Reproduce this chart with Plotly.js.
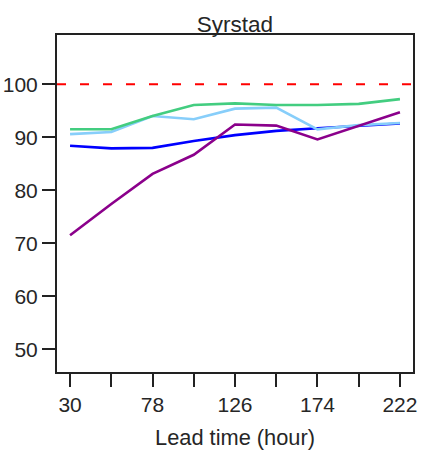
<!DOCTYPE html>
<html>
<head>
<meta charset="utf-8">
<script src="https://cdn.plot.ly/plotly-3.0.1.min.js"></script>
<style>
  html, body { margin: 0; padding: 0; background: #fff; }
  #chart { width: 424px; height: 455px; }
</style>
</head>
<body>
<div id="chart"></div>
<script>
// Lead times (hours) at which the scores were computed
const leadTimes = [30, 54, 78, 102, 126, 150, 174, 198, 222];
const labelledTicks = [30, 78, 126, 174, 222];

// Score per lead time for each series
const seriesBlue      = [88.4, 87.9, 88.0, 89.3, 90.4, 91.2, 91.7, 92.2, 92.6];
const seriesLightBlue = [90.6, 91.0, 94.0, 93.4, 95.4, 95.6, 91.5, 92.3, 92.7];
const seriesGreen     = [91.5, 91.5, 94.0, 96.1, 96.4, 96.1, 96.1, 96.3, 97.2];
const seriesPurple    = [71.5, 77.4, 83.1, 86.7, 92.4, 92.2, 89.6, 92.1, 94.7];

// Reference level drawn as a dashed line
const refLevel = 100;

const yTicks = [50, 60, 70, 80, 90, 100];

const FONT = '"Liberation Sans", Arial, Helvetica, sans-serif';
const AXIS_COLOR = '#222222';
const TEXT_COLOR = '#262626';

function line(y, color) {
  return {
    x: leadTimes, y: y, type: 'scatter', mode: 'lines',
    line: { color: color, width: 2.6 },
    hoverinfo: 'x+y', showlegend: false
  };
}

const traces = [
  line(seriesBlue, '#0000FF'),
  line(seriesLightBlue, '#87CEFA'),
  line(seriesGreen, '#43CD80'),
  line(seriesPurple, '#8B008B')
];

const layout = {
  width: 424, height: 455,
  margin: { l: 57, r: 11, t: 35, b: 83, pad: 0 },
  paper_bgcolor: '#ffffff', plot_bgcolor: '#ffffff',
  font: { family: FONT, size: 21, color: TEXT_COLOR },
  title: {
    text: 'Syrstad',
    font: { family: FONT, size: 22.5, color: TEXT_COLOR },
    x: 0.5, xref: 'paper', xanchor: 'center',
    y: 1 - 24 / 455, yref: 'container', yanchor: 'middle'
  },
  xaxis: {
    range: [22.4, 229.6],
    tickmode: 'array',
    tickvals: leadTimes,
    ticktext: leadTimes.map(v => labelledTicks.includes(v) ? String(v) : ''),
    ticks: 'outside', ticklen: 13, tickwidth: 2, tickcolor: AXIS_COLOR,
    showline: true, linecolor: AXIS_COLOR, linewidth: 2, mirror: true,
    showgrid: false, zeroline: false,
    tickfont: { family: FONT, size: 21, color: TEXT_COLOR },
    title: { text: 'Lead time (hour)', font: { family: FONT, size: 21.8, color: TEXT_COLOR }, standoff: 15 }
  },
  yaxis: {
    range: [45.7, 109.3],
    tickmode: 'array',
    tickvals: yTicks,
    ticks: 'outside', ticklen: 13, tickwidth: 2, tickcolor: AXIS_COLOR,
    showline: true, linecolor: AXIS_COLOR, linewidth: 2, mirror: true,
    showgrid: false, zeroline: false,
    tickfont: { family: FONT, size: 21, color: TEXT_COLOR }
  },
  shapes: [{
    type: 'line', xref: 'paper', x0: 0, x1: 1,
    yref: 'y', y0: refLevel, y1: refLevel,
    line: { color: '#FF0000', width: 2, dash: '9px,14px' },
    layer: 'below'
  }]
};

Plotly.newPlot('chart', traces, layout, { displayModeBar: false, staticPlot: true });
</script>
</body>
</html>
